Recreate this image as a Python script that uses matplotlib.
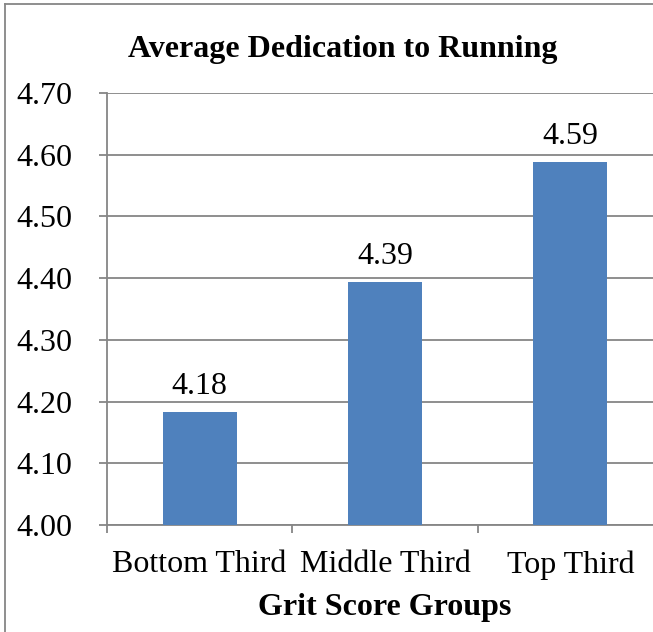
import matplotlib.pyplot as plt
from matplotlib.lines import Line2D

groups = ["Bottom Third", "Middle Third", "Top Third"]
dedication = [4.183, 4.394, 4.588]
yticks = [4.00, 4.10, 4.20, 4.30, 4.40, 4.50, 4.60, 4.70]

BAR = "#4F81BD"
GRID = "#868686"
FS = 23

plt.rcParams["font.family"] = ["Liberation Serif", "DejaVu Serif"]

fig = plt.figure(figsize=(6.53, 6.32), dpi=100)
ax = fig.add_axes([107 / 653, 1 - 525 / 632, 556 / 653, 432 / 632])

x = range(len(groups))
ax.bar(x, dedication, width=0.4, color=BAR, zorder=3)
for xi, v in zip(x, dedication):
    ax.annotate(f"{v:.2f}", (xi, v), xytext=(0, 8), textcoords="offset points",
                ha="center", va="bottom", fontsize=FS)

ax.set_ylim(4.0, 4.7)
ax.set_xlim(-0.5, 2.5)
ax.set_yticks(yticks)
ax.set_yticklabels([f"{t:.2f}" for t in yticks], fontsize=FS)
ax.yaxis.grid(True, color=GRID, lw=1.3, zorder=0)
ax.tick_params(axis="y", length=6, width=1.3, color=GRID, pad=19)

ax.set_xticks([-0.5, 0.5, 1.5, 2.5])
ax.set_xticklabels([])
ax.set_xticks(list(x), minor=True)
ax.set_xticklabels(groups, minor=True, fontsize=FS)
ax.tick_params(axis="x", which="major", length=6, width=1.3, color=GRID)
ax.tick_params(axis="x", which="minor", length=0, pad=18)

for s in ("top", "right"):
    ax.spines[s].set_visible(False)
for s in ("left", "bottom"):
    ax.spines[s].set_color(GRID)
    ax.spines[s].set_linewidth(1.3)

fig.text(343 / 653, 1 - 50 / 632, "Average Dedication to Running",
         ha="center", va="center", fontsize=FS, fontweight="bold")
fig.text(385 / 653, 1 - 607 / 632, "Grit Score Groups",
         ha="center", va="center", fontsize=FS, fontweight="bold")

# chart frame (only left and top edges are visible in the crop)
fig.add_artist(Line2D([4.5 / 653, 4.5 / 653], [0, 1 - 3.5 / 632],
                      transform=fig.transFigure, color=GRID, lw=1.3))
fig.add_artist(Line2D([4.5 / 653, 1], [1 - 3.5 / 632, 1 - 3.5 / 632],
                      transform=fig.transFigure, color=GRID, lw=1.3))

fig.savefig("out.png", dpi=100)
